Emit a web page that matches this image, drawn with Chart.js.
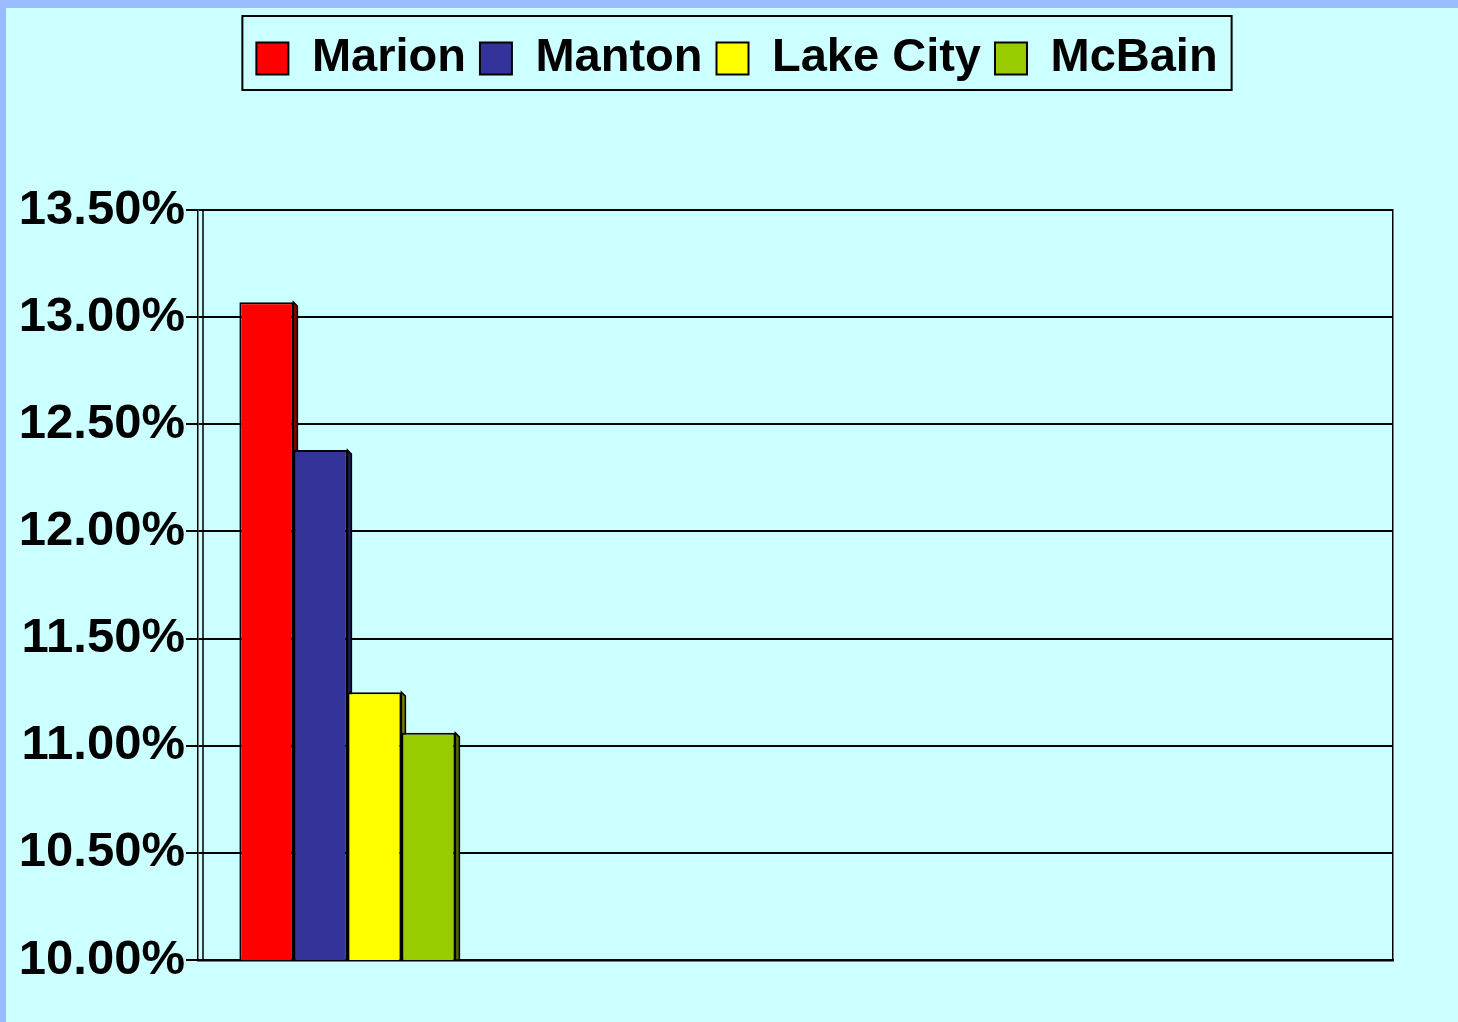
<!DOCTYPE html>
<html>
<head>
<meta charset="utf-8">
<script src="https://cdn.jsdelivr.net/npm/chart.js@4.4.1/dist/chart.umd.min.js"></script>
<style>
    html, body { margin: 0; padding: 0; background: #CCFFFF; }
    #wrap {
        position: absolute; left: 0; top: 0;
        width: 1452px; height: 1014px;
        border-top: 8px solid #99BBFF;
        border-left: 6px solid #99BBFF;
    }
    canvas { display: block; }
</style>
</head>
<body>
<div id="wrap"><canvas id="container" width="1452" height="1014"></canvas></div>
<script>
// chart data
const categories = ['', '', '', ''];
const seriesNames = ['Marion', 'Manton', 'Lake City', 'McBain'];
const marion = [13.07, null, null, null];
const manton = [12.38, null, null, null];
const lakeCity = [11.25, null, null, null];
const mcBain = [11.06, null, null, null];
const yMin = 10;
const yMax = 13.5;
const yStep = 0.5;

const frontColors = ['#FF0000', '#333399', '#FFFF00', '#99CC00'];
const sideColors = ['#8A0000', '#1C1C55', '#7A7A00', '#4F6A00'];
const FONT = '"Liberation Sans", Arial, sans-serif';

// 3D side faces drawn behind the bar fronts
const barSides = {
    id: 'barSides',
    beforeDatasetsDraw(chart) {
        const ctx = chart.ctx;
        const d = 4;
        const bottom = chart.chartArea.bottom;
        chart.data.datasets.forEach((ds, i) => {
            chart.getDatasetMeta(i).data.forEach((el, j) => {
                if (ds.data[j] == null) return;
                const r = el.x + el.width / 2;
                ctx.save();
                ctx.beginPath();
                ctx.moveTo(r, el.y);
                ctx.lineTo(r + d, el.y + d);
                ctx.lineTo(r + d, bottom);
                ctx.lineTo(r, bottom);
                ctx.closePath();
                ctx.fillStyle = sideColors[i];
                ctx.fill();
                ctx.lineWidth = 1.5;
                ctx.strokeStyle = '#000';
                ctx.stroke();
                ctx.restore();
            });
        });
    }
};

// wall line, legend frame
const frames = {
    id: 'frames',
    beforeInit(chart) {
        const origFit = chart.legend.fit;
        chart.legend.fit = function () {
            origFit.bind(chart.legend)();
            this.height = 189;
        };
    },
    afterDraw(chart) {
        const ctx = chart.ctx;
        const a = chart.chartArea;
        ctx.save();
        ctx.strokeStyle = '#000';
        ctx.lineWidth = 1.5;
        ctx.beginPath();
        ctx.moveTo(a.left + 5, a.top);
        ctx.lineTo(a.left + 5, a.bottom);
        ctx.stroke();

        const boxes = chart.legend.legendHitBoxes;
        if (boxes && boxes.length) {
            const left = Math.min(...boxes.map(b => b.left)) - 14;
            const right = Math.max(...boxes.map(b => b.left + b.width)) + 14;
            const top = boxes[0].top - 19;
            const bottom = boxes[0].top + boxes[0].height + 8;
            ctx.lineWidth = 2;
            ctx.strokeRect(left, top, right - left, bottom - top);
        }
        ctx.restore();
    }
};

const seriesData = [marion, manton, lakeCity, mcBain];

const ctx = document.getElementById('container').getContext('2d');
const chart = new Chart(ctx, {
    type: 'bar',
    data: {
        labels: categories,
        datasets: seriesNames.map((name, i) => ({
            label: name,
            data: seriesData[i],
            backgroundColor: frontColors[i],
            borderColor: '#000',
            borderWidth: 2,
            borderSkipped: false,
            categoryPercentage: 0.723,
            barPercentage: 1.0
        }))
    },
    options: {
        responsive: false,
        animation: false,
        layout: {
            padding: { top: 13, left: 15, right: 5, bottom: 62 }
        },
        plugins: {
            tooltip: { enabled: false },
            legend: {
                position: 'top',
                labels: {
                    boxWidth: 32,
                    boxHeight: 32,
                    padding: 14,
                    color: '#000',
                    font: { family: FONT, size: 47, weight: 'bold' }
                }
            }
        },
        scales: {
            x: {
                ticks: { display: false },
                grid: { display: false },
                border: { display: true, color: '#000', width: 2.5 },
                afterFit(scale) { scale.height = 0; }
            },
            y: {
                min: yMin,
                max: yMax,
                ticks: {
                    stepSize: yStep,
                    padding: 1,
                    color: '#000',
                    font: { family: FONT, size: 49, weight: 'bold' },
                    callback: v => v.toFixed(2) + '%'
                },
                grid: { color: '#000', lineWidth: 2, tickLength: 12 },
                border: { display: true, color: '#000', width: 1.5 },
                afterFit(scale) { scale.width = 177; }
            },
            y2: {
                position: 'right',
                ticks: { display: false },
                grid: { display: false, drawTicks: false },
                border: { display: true, color: '#000', width: 1.5 },
                afterFit(scale) { scale.width = 60; }
            }
        }
    },
    plugins: [barSides, frames]
});
</script>
</body>
</html>
